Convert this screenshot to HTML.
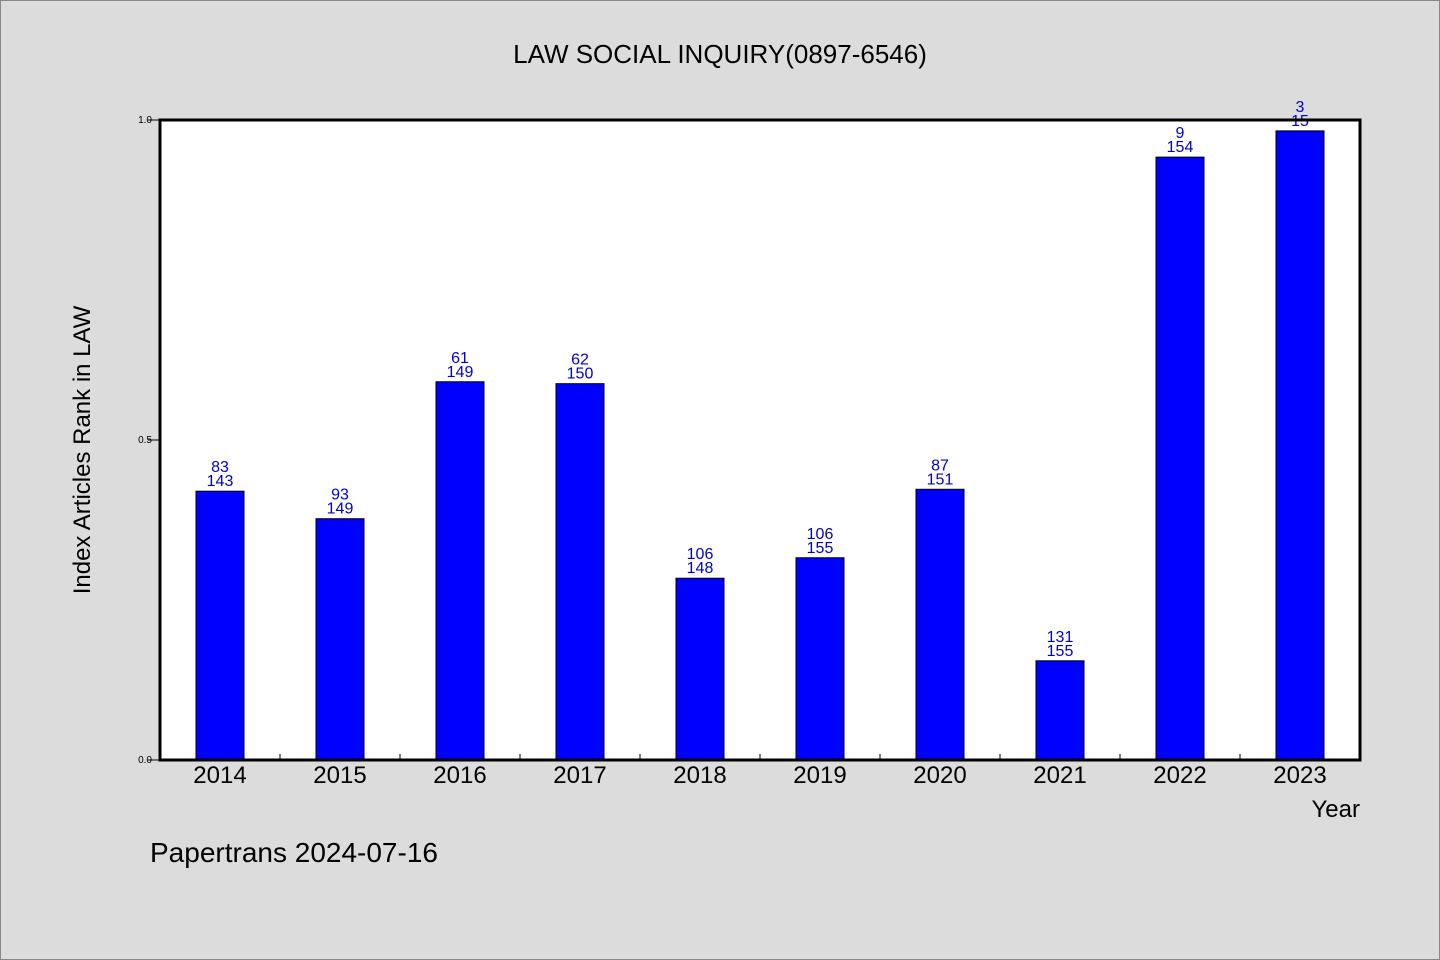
<!DOCTYPE html>
<html><head><meta charset="utf-8"><style>
html,body{margin:0;padding:0;background:#dcdcdc;}
svg{display:block;font-family:"WenQuanYi Zen Hei","Liberation Sans",sans-serif;}
</style></head><body>
<svg width="1440" height="960" xmlns="http://www.w3.org/2000/svg">
<rect x="0.5" y="0.5" width="1439" height="959" fill="#dcdcdc" stroke="#888"/>
<text x="720" y="63" text-anchor="middle" font-size="26" fill="#000">LAW SOCIAL INQUIRY(0897-6546)</text>
<rect x="160" y="120" width="1200" height="640" fill="#fff"/>
<g id="bars"></g>
<rect x="160" y="120" width="1200" height="640" fill="none" stroke="#000" stroke-width="3"/>
<g id="axes"></g>
<text x="90" y="450" text-anchor="middle" font-size="24" transform="rotate(-90 90 450)">Index Articles Rank in LAW</text>
<text x="1360" y="817" text-anchor="end" font-size="24">Year</text>
<text x="150" y="862" font-size="28">Papertrans 2024-07-16</text>
</svg>
<script>
const years=["2014","2015","2016","2017","2018","2019","2020","2021","2022","2023"];
const values=[0.420,0.377,0.591,0.588,0.284,0.316,0.423,0.155,0.942,0.983];
const ranks=["83","93","61","62","106","106","87","131","9","3"];
const totals=["143","149","149","150","148","155","151","155","154","15"];
const yTicks=[0,0.5,1.0];
const yTickLabels=["0.0","0.5","1.0"];
const NS="http://www.w3.org/2000/svg";
const x0=160,pw=1200,y0=760,ph=640;
const band=pw/years.length;
const xs=i=>x0+band*(i+0.5);
const ys=v=>y0-v*ph;
function mk(t,a,p){const e=document.createElementNS(NS,t);for(const k in a)e.setAttribute(k,a[k]);p.appendChild(e);return e;}
const bars=document.getElementById('bars'),axes=document.getElementById('axes');
years.forEach((yr,i)=>{
  const cx=xs(i),top=ys(values[i]);
  const r=mk('rect',{x:cx-24,y:top,width:48,height:y0-top,fill:'#0000ff',stroke:'#000','stroke-width':1},bars);
  
  
  const t1=mk('text',{x:cx,y:top-19,'text-anchor':'middle','font-size':16,fill:'#0000cc'},bars);
  t1.textContent=ranks[i];
  
  
  const t2=mk('text',{x:cx,y:top-5,'text-anchor':'middle','font-size':16,fill:'#0000cc'},bars);
  t2.textContent=totals[i];
  
  
  const xl=mk('text',{x:cx,y:783,'text-anchor':'middle','font-size':24},axes);
  xl.textContent=yr;
  
  
  if(i>0){
    const tk=mk('line',{x1:x0+band*i,x2:x0+band*i,y1:y0,y2:y0-6,stroke:'#000'},axes);
    
    
  }
});
yTicks.forEach((v,i)=>{
  const y=ys(v);
  const l=mk('line',{x1:x0-12,x2:x0,y1:y,y2:y,stroke:'#000'},axes);
  
  
  const t=mk('text',{x:x0-8,y:y+3,'text-anchor':'end','font-size':10},axes);
  t.textContent=yTickLabels[i];
  
  
});
</script>
</body></html>
